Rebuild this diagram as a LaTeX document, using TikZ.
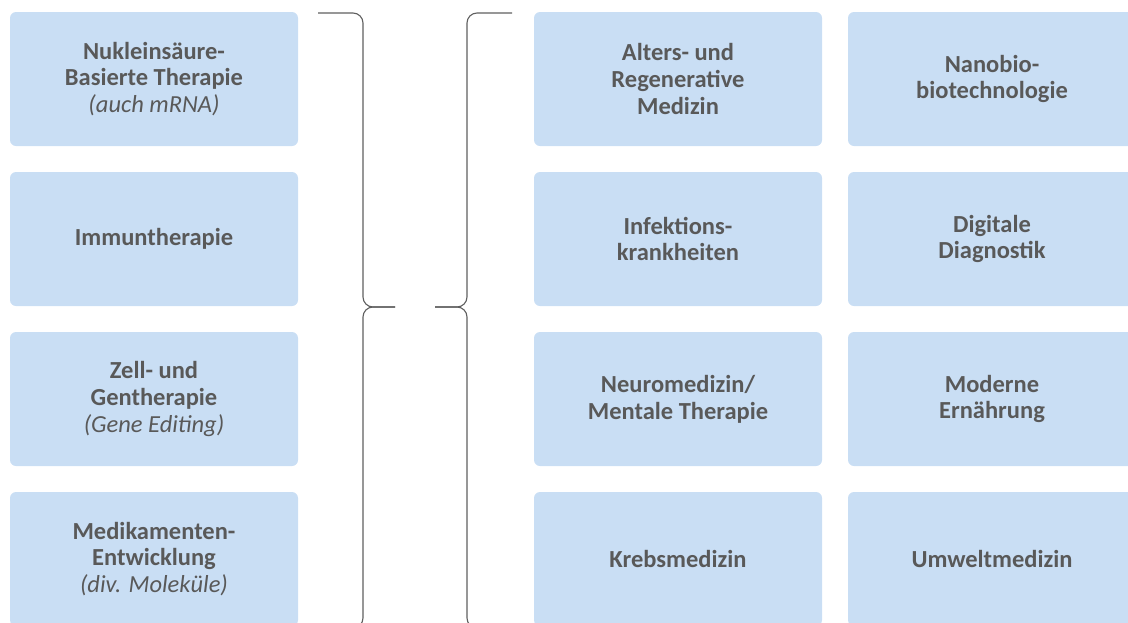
\documentclass[tikz,border=0pt]{standalone}
\usepackage{fontspec}
\setmainfont{Carlito}
\definecolor{boxblue}{HTML}{C9DEF4}
\definecolor{txtgray}{HTML}{595959}
\definecolor{bracegray}{HTML}{5F5F5F}
\newcommand{\subline}[1]{{\mdseries\itshape #1}}

\begin{document}
\begin{tikzpicture}[x=1pt,y=-1pt,
		field/.style = {shape=rectangle, rounded corners=6pt, fill=boxblue,
			minimum width=288pt, minimum height=134pt, text=txtgray, align=center,
			font=\fontsize{24.5}{26.8}\selectfont\bfseries},
		bracket/.style = {draw=bracegray, line width=1.1pt, rounded corners=10pt}]
		\useasboundingbox (0,0) rectangle (1128,622);
		\clip (0,0) rectangle (1128,622);
		% left column
		\node[field] (nuk) at (154,79) {Nukleinsäure-\\Basierte Therapie\\\subline{(auch mRNA)}};
		\node[field] (imm) at (154,239) {Immuntherapie};
		\node[field] (zell) at (154,399) {Zell- und\\Gentherapie\\\subline{(Gene Editing)}};
		\node[field] (med) at (154,559) {Medikamenten-\\Entwicklung\\\subline{(div. Moleküle)}};
		% right columns
		\node[field] (alt) at (678,79) {Alters- und\\Regenerative\\Medizin};
		\node[field] (nano) at (992,79) {Nanobio-\\biotechnologie};
		\node[field] (inf) at (678,239) {Infektions-\\krankheiten};
		\node[field] (dig) at (992,239) {Digitale\\Diagnostik};
		\node[field] (neuro) at (678,399) {Neuromedizin/\\Mentale Therapie};
		\node[field] (ern) at (992,399) {Moderne\\Ernährung};
		\node[field] (krebs) at (678,559) {Krebsmedizin};
		\node[field] (umw) at (992,559) {Umweltmedizin};
		% braces
		\coordinate (rtip) at (395,307);
		\coordinate (ltip) at (435,307);
		\draw[bracket] (318,13) -- (363,13) -- (363,307) -- (rtip);
		\draw[bracket] (rtip) -- (363,307) -- (363,628) -- (318,628);
		\draw[bracket] (512,13) -- (467,13) -- (467,307) -- (ltip);
		\draw[bracket] (ltip) -- (467,307) -- (467,628) -- (512,628);
\end{tikzpicture}
\end{document}
